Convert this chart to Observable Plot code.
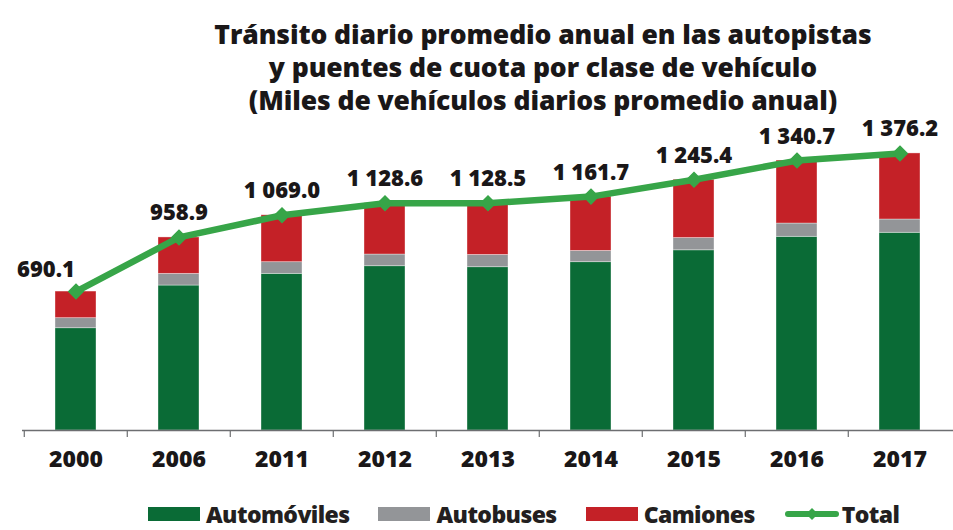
<!DOCTYPE html>
<html><head><meta charset="utf-8">
<script src="https://cdn.jsdelivr.net/npm/d3@7"></script>
<script src="https://cdn.jsdelivr.net/npm/@observablehq/plot@0.6"></script>
<style>
body{margin:0;background:#fff;font-family:"Open Sans",sans-serif;color:#231f20;}
#wrap{width:953px;height:530px;overflow:hidden;position:relative;}
#title{position:absolute;left:0;top:0;width:953px;box-sizing:border-box;padding-top:18px;padding-left:133px;text-align:center;font-weight:800;font-size:26.5px;letter-spacing:-0.1px;color:#1a1718;z-index:2;}
#title div{height:33px;line-height:33px;white-space:nowrap;}
#legend{height:37px;box-sizing:border-box;padding-top:5px;display:flex;align-items:center;padding-left:148px;font-weight:800;font-size:23px;line-height:28px;letter-spacing:-0.6px;}
.sw{width:52px;height:14px;margin-right:6px;}
.item{display:flex;align-items:center;margin-right:29px;height:28px;}
</style></head>
<body><div id="wrap">
<div id="title"><div>Tránsito diario promedio anual en las autopistas</div><div>y puentes de cuota por clase de vehículo</div><div>(Miles de vehículos diarios promedio anual)</div></div>
<div id="chart"></div>
<div id="legend"></div>
</div>
<script>
const years = ["2000","2006","2011","2012","2013","2014","2015","2016","2017"];
const automoviles = [508, 720, 778, 816, 811, 836, 895, 962, 982];
const autobuses = [50, 58, 58, 58, 61, 56, 61, 66, 66];
const camiones = [132.1, 180.9, 233.0, 254.6, 256.5, 269.7, 289.4, 312.7, 328.2];
const total = [690.1, 958.9, 1069.0, 1128.6, 1128.5, 1161.7, 1245.4, 1340.7, 1376.2];
const classes = ["Automóviles", "Autobuses", "Camiones"];
const colors = ["#0a6b36", "#939598", "#c42127"];
const lineColor = "#37a548";

const rows = [];
years.forEach((y, i) => {
  rows.push({year: y, clase: classes[0], value: automoviles[i]});
  rows.push({year: y, clase: classes[1], value: autobuses[i]});
  rows.push({year: y, clase: classes[2], value: camiones[i]});
});
const totals = years.map((y, i) => ({year: y, total: total[i]}));
const loc = d3.formatLocale({decimal: ".", thousands: " ", grouping: [3], currency: ["", ""]});
const fmt = loc.format(",.1f");

const W = 953, H = 493, mL = 22, mR = 0;
const step = (W - mL - mR) / years.length;

const plot = Plot.plot({
  width: W, height: H,
  marginLeft: mL, marginRight: mR, marginTop: 128, marginBottom: 63,
  style: {fontFamily: "Open Sans, sans-serif", color: "#231f20", background: "#fff"},
  x: {domain: years, paddingInner: 0.6, paddingOuter: 0.3, axis: null, label: null},
  y: {domain: [0, 1500], axis: null},
  color: {domain: classes, range: colors},
  marks: [
    Plot.barY(rows, {x: "year", y: "value", fill: "clase", stroke: "#fff", strokeOpacity: 0.45, strokeWidth: 0.8}),
    Plot.ruleY([0], {stroke: "#6d6e71", strokeWidth: 1.3}),
    Plot.axisX({tickSize: 7, tickFormat: () => "", label: null, dx: -step / 2, stroke: "#6d6e71", strokeWidth: 1.2}),
    Plot.axisX({tickSize: 0, tickPadding: 20, label: null, fontSize: 23, fontWeight: 800, fill: "#1a1718"}),
    Plot.line(totals, {x: "year", y: "total", stroke: lineColor, strokeWidth: 6.5, strokeLinejoin: "round", strokeLinecap: "round"}),
    Plot.dot(totals, {x: "year", y: "total", symbol: "diamond2", r: 6.5, fill: lineColor, stroke: lineColor}),
    Plot.text(totals.filter(d => d.year !== years[0]), {x: "year", y: "total", text: d => fmt(d.total), dy: -24, fontSize: 22, fontWeight: 800, fill: "#1a1718"}),
    Plot.text(totals.filter(d => d.year === years[0]), {x: "year", y: "total", text: d => fmt(d.total), dx: -30, dy: -22, fontSize: 22, fontWeight: 800, fill: "#1a1718"})
  ]
});
document.getElementById("chart").appendChild(plot);

const lg = document.getElementById("legend");
classes.forEach((c, i) => {
  const it = document.createElement("div"); it.className = "item";
  it.innerHTML = `<div class="sw" style="background:${colors[i]}"></div><span>${c}</span>`;
  lg.appendChild(it);
});
const it = document.createElement("div"); it.className = "item";
it.innerHTML = `<svg width="56" height="14" style="margin-right:2px"><line x1="4" y1="7" x2="52" y2="7" stroke="${lineColor}" stroke-width="6" stroke-linecap="round"/><path d="M28 1 L34 7 L28 13 L22 7Z" fill="${lineColor}"/></svg><span>Total</span>`;
lg.appendChild(it);
</script>
</body></html>
